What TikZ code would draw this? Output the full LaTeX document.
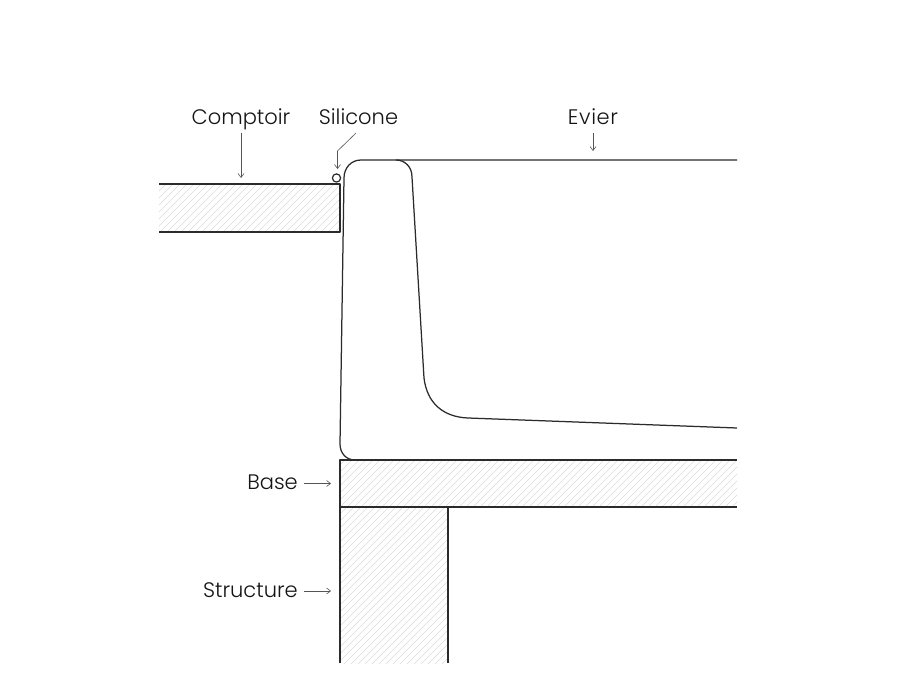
\documentclass[tikz,border=0pt]{standalone}
\usepackage{fontspec}
\setmainfont{Poppins}[UprightFont=* Light]
\usetikzlibrary{arrows.meta}
\definecolor{ink}{HTML}{2B2B2B}
\definecolor{hatchc}{HTML}{DCDCDC}
\definecolor{thin}{HTML}{555555}
\tikzset{
  x=1pt,y=-1pt,
  outline/.style={draw=ink,line width=1.25pt,line join=round},
  hatchline/.style={draw=hatchc,line width=0.6pt},
  leader/.style={draw=thin,line width=0.6pt,-{Straight Barb[length=4pt,width=6pt,line width=0.6pt]}},
  lab/.style={inner sep=0pt,text=black!92,font=\fontsize{21}{26}\selectfont,anchor=base}
}
\newcommand{\hatchbox}[4]{%
  \begin{scope}
    \clip (#1,#2) rectangle (#3,#4);
    \foreach \k in {-700,-693,...,1100}{\draw[hatchline] (\k,700) -- (\k+700,0);}
  \end{scope}}
\begin{document}
\begin{tikzpicture}
\useasboundingbox (0,0) rectangle (900,700);
\fill[white] (0,0) rectangle (900,700);
% hatching
\hatchbox{159}{184}{340}{232}
\hatchbox{340}{460}{737}{507}
\hatchbox{340}{507}{448}{663}
% countertop
\draw[outline] (159,184) -- (340,184) -- (340,232) -- (159,232);
% base
\draw[outline] (340,663) -- (340,460) -- (737,460);
\draw[outline] (340,507) -- (737,507);
\draw[outline] (448,507) -- (448,663);
% sink
\draw[outline] (355,460) .. controls (346,460) and (340,453) .. (340,444)
  -- (344,178) .. controls (344,168) and (351,160) .. (361,160)
  -- (737,160);
\draw[outline] (396,160) .. controls (405,160) and (412,167) .. (412,177)
  -- (424,378) .. controls (427,403) and (443,417) .. (468,418)
  -- (737,428);
% silicone bead
\node[circle,draw=ink,line width=1.2pt,minimum size=8.2pt,inner sep=0pt] (bead) at (336.5,178) {};
% labels
\node[lab] (comptoir) at (241,124.5) {Comptoir};
\node[lab] (silicone) at (358.5,124.5) {Silicone};
\node[lab] (evier) at (593,124.5) {\addfontfeature{LetterSpace=3}Evier};
\node[lab,anchor=base east] (base) at (298,489.5) {Base};
\node[lab,anchor=base east] (structure) at (298,597.5) {Structure};
% leaders
\coordinate (cTop) at (241,133);
\coordinate (cEnd) at (241,178);
\coordinate (sTop) at (356,133);
\coordinate (sMid) at (337.5,151);
\coordinate (sEnd) at (337.5,169);
\coordinate (eTop) at (593,133);
\coordinate (eEnd) at (593,151);
\coordinate (bL) at (304,483.5);
\coordinate (bR) at (331,483.5);
\coordinate (tL) at (304,591);
\coordinate (tR) at (331,591);
\draw[leader] (cTop) -- (cEnd);
\draw[leader] (sTop) -- (sMid) -- (sEnd);
\draw[leader] (eTop) -- (eEnd);
\draw[leader] (bL) -- (bR);
\draw[leader] (tL) -- (tR);
\end{tikzpicture}
\end{document}
